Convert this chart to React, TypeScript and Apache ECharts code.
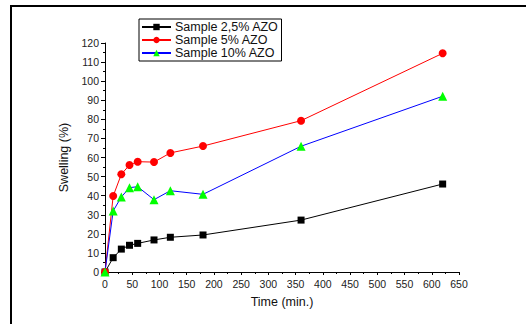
import React, { useEffect, useRef } from "react";
import * as echarts from "echarts";

const times = [0, 15, 30, 45, 60, 90, 120, 180, 360, 620];
const s25 = [0, 7.5, 12, 14, 15, 16.8, 18.2, 19.4, 27.2, 46.1];
const s5 = [0, 39.8, 51.2, 56.1, 57.8, 57.6, 62.4, 66.0, 79.3, 114.6];
const s10 = [0, 32.0, 39.3, 44.2, 44.7, 37.9, 42.6, 40.7, 65.9, 92.1];
const seriesNames = ["Sample 2,5% AZO", "Sample 5% AZO", "Sample 10% AZO"];

const FONT = "Liberation Sans, Arial, sans-serif";

export default function App() {
  const ref = useRef<HTMLDivElement>(null);
  useEffect(() => {
    if (!ref.current) return;
    const chart = echarts.init(ref.current, null, { renderer: "svg" });
    const pairs = (ys: number[]) => times.map((t, i) => [t, ys[i]]);
    chart.setOption({
      animation: false,
      backgroundColor: "#fff",
      textStyle: { fontFamily: FONT },
      grid: { left: 105, top: 43, right: 67, bottom: 52, containLabel: false },
      legend: {
        left: 139,
        top: 19,
        orient: "vertical",
        padding: [1.5, 3, 1.5, 2],
        itemGap: 0,
        itemWidth: 29,
        itemHeight: 8,
        borderColor: "#000",
        borderWidth: 1,
        borderRadius: 0,
        textStyle: { fontFamily: FONT, fontSize: 12.5, color: "#111", lineHeight: 13, padding: [0, 0, 0, -1] },
        data: seriesNames,
      },
      xAxis: {
        type: "value",
        min: 0,
        max: 650,
        interval: 50,
        name: "Time (min.)",
        nameLocation: "middle",
        nameGap: 23,
        nameTextStyle: { fontFamily: FONT, fontSize: 12.5, color: "#111" },
        axisLine: { show: true, lineStyle: { color: "#000", width: 1 } },
        axisTick: { show: true, length: 3, lineStyle: { color: "#000" } },
        minorTick: { show: true, splitNumber: 2, length: 2, lineStyle: { color: "#000" } },
        axisLabel: { fontFamily: FONT, fontSize: 10.5, color: "#222", margin: 6 },
        splitLine: { show: false },
      },
      yAxis: {
        type: "value",
        min: 0,
        max: 120,
        interval: 10,
        name: "Swelling (%)",
        nameLocation: "middle",
        nameGap: 29,
        nameTextStyle: { fontFamily: FONT, fontSize: 12.5, color: "#111" },
        axisLine: { show: true, lineStyle: { color: "#000", width: 1 } },
        axisTick: { show: true, length: 4, lineStyle: { color: "#000" } },
        minorTick: { show: true, splitNumber: 2, length: 2, lineStyle: { color: "#000" } },
        axisLabel: { fontFamily: FONT, fontSize: 10.5, color: "#222", margin: 6 },
        splitLine: { show: false },
      },
      series: [
        {
          name: seriesNames[0],
          type: "line",
          data: pairs(s25),
          symbol: "rect",
          symbolSize: 7,
          color: "#000",
          lineStyle: { color: "#000", width: 1 },
          itemStyle: { color: "#000" },
        },
        {
          name: seriesNames[1],
          type: "line",
          data: pairs(s5),
          symbol: "circle",
          symbolSize: 8,
          color: "#ff0000",
          lineStyle: { color: "#ff0000", width: 1 },
          itemStyle: { color: "#ff0000" },
        },
        {
          name: seriesNames[2],
          type: "line",
          data: pairs(s10),
          symbol: "triangle",
          symbolSize: 9,
          color: "#0000ff",
          lineStyle: { color: "#0000ff", width: 1 },
          itemStyle: { color: "#00ff00" },
        },
      ],
      graphic: [
        { type: "rect", shape: { x: 10, y: 5, width: 520, height: 2 }, style: { fill: "#000" }, silent: true },
        { type: "rect", shape: { x: 10, y: 5, width: 2, height: 330 }, style: { fill: "#000" }, silent: true },
      ],
    });
    return () => chart.dispose();
  }, []);
  return <div ref={ref} style={{ width: 526, height: 324, position: "fixed", left: 0, top: 0 }} />;
}
